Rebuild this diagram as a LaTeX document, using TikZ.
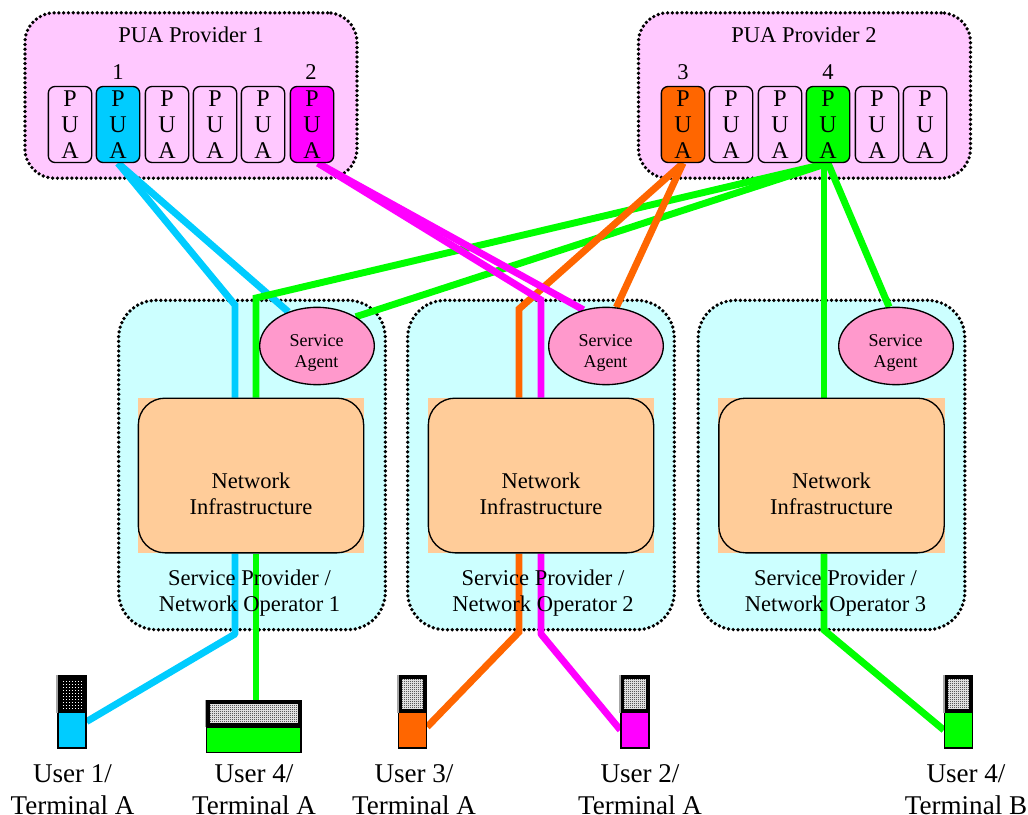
\documentclass[tikz,border=0pt]{standalone}
\usepackage{fontspec}
\setmainfont{Liberation Serif}
\usetikzlibrary{shapes.geometric,patterns}
\pgfdeclarelayer{bg}
\pgfdeclarelayer{lnk}
\pgfsetlayers{bg,lnk,main}
\pgfdeclarepatternformonly{finedots}{\pgfpointorigin}{\pgfqpoint{1.5pt}{1.5pt}}{\pgfqpoint{1.5pt}{1.5pt}}{\pgfpathrectangle{\pgfpointorigin}{\pgfqpoint{.75pt}{.75pt}}\pgfpathrectangle{\pgfqpoint{.75pt}{.75pt}}{\pgfqpoint{.75pt}{.75pt}}\pgfusepath{fill}}
\pgfdeclarepatternformonly{sparsedots}{\pgfpointorigin}{\pgfqpoint{2.25pt}{2.25pt}}{\pgfqpoint{2.25pt}{2.25pt}}{\pgfpathrectangle{\pgfpointorigin}{\pgfqpoint{.75pt}{.75pt}}\pgfusepath{fill}}
\definecolor{puabg}{RGB}{255,200,255}
\definecolor{spbg}{RGB}{204,255,255}
\definecolor{peach}{RGB}{255,204,153}
\definecolor{agentc}{RGB}{255,153,204}
\definecolor{cblue}{RGB}{0,204,255}
\definecolor{corange}{RGB}{255,102,0}
\definecolor{cgreen}{RGB}{0,255,0}
\definecolor{cmag}{RGB}{255,0,255}
\tikzstyle{prov}=[draw=black,line width=2.8pt,dash pattern=on 0pt off 3.6pt,line cap=round,rounded corners=22pt,fill=puabg,minimum width=249pt,minimum height=124pt]
\tikzstyle{spbox}=[draw=black,line width=2.8pt,dash pattern=on 0pt off 3.6pt,line cap=round,rounded corners=28pt,fill=spbg,minimum width=200pt,minimum height=247pt]
\tikzstyle{pua}=[draw=black,line width=1pt,rounded corners=5pt,minimum width=32.5pt,minimum height=57pt,inner sep=0pt,align=center,font=\fontsize{18}{19.5}\selectfont]
\tikzstyle{agent}=[ellipse,draw=black,line width=1pt,fill=agentc,minimum width=86pt,minimum height=58pt,inner sep=0pt]
\tikzstyle{agtxt}=[inner sep=0pt,align=center,font=\fontsize{13.5}{16}\selectfont]
\tikzstyle{infrabg}=[fill=peach,minimum width=170pt,minimum height=116pt,inner sep=0pt]
\tikzstyle{infra}=[draw=black,line width=1pt,fill=peach,rounded corners=20pt,minimum width=169pt,minimum height=116pt,inner sep=0pt]
\tikzstyle{lab}=[inner sep=0pt,align=center,font=\fontsize{16.9}{19.5}\selectfont]
\tikzstyle{user}=[inner sep=0pt,align=center,font=\fontsize{20.3}{24}\selectfont]
\tikzstyle{lk}=[line width=5.2pt,line join=miter]
\tikzstyle{scr}=[draw=black,line width=3pt,preaction={fill=white},pattern=finedots,pattern color=black,inner sep=0pt]
\tikzstyle{scrdark}=[draw=black,line width=3pt,preaction={fill=black},pattern=sparsedots,pattern color=white,inner sep=0pt]
\tikzstyle{bodyc}=[draw=black,line width=1pt,inner sep=0pt]
\tikzstyle{bevel}=[draw=gray!70,line width=1.4pt]
\begin{document}
\begin{tikzpicture}[x=.75pt,y=-.75pt]
\useasboundingbox (0,0) rectangle (1028,814);
\begin{pgfonlayer}{bg}
\node[prov] (provA) at (191,95.5) {};
\node[prov] (provB) at (804.5,95.5) {};
\node[spbox] (spA) at (252,465) {};
\node[spbox] (spB) at (541,465) {};
\node[spbox] (spC) at (831.5,465) {};
\end{pgfonlayer}
\node[lab] (provAt) at (191,35) {PUA Provider 1};
\node[lab] (provBt) at (804,35) {PUA Provider 2};
% left provider
\node[pua] (a1) at (70,124.5) {P\\U\\A};
\node[pua,fill=cblue] (a2) at (118,124.5) {P\\U\\A};
\node[pua] (a3) at (167,124.5) {P\\U\\A};
\node[pua] (a4) at (215,124.5) {P\\U\\A};
\node[pua] (a5) at (263,124.5) {P\\U\\A};
\node[pua,fill=cmag] (a6) at (312,124.5) {P\\U\\A};
\node[lab] (n1) at (118,72) {1};
\node[lab] (n2) at (311,72) {2};
% right provider
\node[pua,fill=corange] (b1) at (683,124.5) {P\\U\\A};
\node[pua] (b2) at (731,124.5) {P\\U\\A};
\node[pua] (b3) at (780,124.5) {P\\U\\A};
\node[pua,fill=cgreen] (b4) at (828,124.5) {P\\U\\A};
\node[pua] (b5) at (877,124.5) {P\\U\\A};
\node[pua] (b6) at (925,124.5) {P\\U\\A};
\node[lab] (n3) at (683,72) {3};
\node[lab] (n4) at (828,72) {4};
% service providers
\node[agent] (agA) at (317,346) {};
\node[agent] (agB) at (606,346) {};
\node[agent] (agC) at (896,346) {};
\node[agtxt] (agAt) at (316.5,353) {Service\\Agent};
\node[agtxt] (agBt) at (605.5,353) {Service\\Agent};
\node[agtxt] (agCt) at (895.5,353) {Service\\Agent};
\node[infrabg] (ibA) at (251,475.5) {};
\node[infrabg] (ibB) at (541,475.5) {};
\node[infrabg] (ibC) at (831.5,475.5) {};
\node[infra] (inA) at (251,475.5) {};
\node[infra] (inB) at (541,475.5) {};
\node[infra] (inC) at (831.5,475.5) {};
\node[lab] (inAt) at (251,494) {Network\\Infrastructure};
\node[lab] (inBt) at (541,494) {Network\\Infrastructure};
\node[lab] (inCt) at (831.5,494) {Network\\Infrastructure};
\node[lab] (opA) at (249.5,593) {Service Provider /\\Network Operator 1};
\node[lab] (opB) at (543,593) {Service Provider /\\Network Operator 2};
\node[lab] (opC) at (835.5,593) {Service Provider /\\Network Operator 3};
% terminals
\node[scrdark,minimum width=19pt,minimum height=25pt] (s1) at (72,694) {};
\node[bodyc,fill=cblue,minimum width=21pt,minimum height=27pt] (t1) at (72,730) {};
\node[scr,minimum width=69pt,minimum height=17pt] (s2) at (253.5,713.5) {};
\node[bodyc,fill=cgreen,minimum width=71pt,minimum height=19pt] (t2) at (253.5,740) {};
\node[scr,minimum width=19pt,minimum height=25pt] (s3) at (412.5,694) {};
\node[bodyc,fill=corange,minimum width=21pt,minimum height=27pt] (t3) at (412.5,730) {};
\node[scr,minimum width=19pt,minimum height=25pt] (s4) at (635,694) {};
\node[bodyc,fill=cmag,minimum width=21pt,minimum height=27pt] (t4) at (635,730) {};
\node[scr,minimum width=19pt,minimum height=25pt] (s5) at (958.5,694) {};
\node[bodyc,fill=cgreen,minimum width=21pt,minimum height=27pt] (t5) at (958.5,730) {};
\foreach \s in {s1,s2,s3,s4,s5} \draw[bevel] (\s.north west) -- (\s.south west);
\node[user] (u1) at (72.5,789.5) {User 1/\\Terminal A};
\node[user] (u2) at (254,789.5) {User 4/\\Terminal A};
\node[user] (u3) at (414,789.5) {User 3/\\Terminal A};
\node[user] (u4) at (640,789.5) {User 2/\\Terminal A};
\node[user] (u5) at (966,789.5) {User 4/\\Terminal B};
% bends
\coordinate (kA1) at (235,305); \coordinate (kA2) at (256,298);
\coordinate (kB1) at (519,309); \coordinate (kB2) at (541,300);
\coordinate (kC1) at (824,298);
\coordinate (mA1) at (235,634); \coordinate (mB1) at (519,632);
\coordinate (mB2) at (541,634); \coordinate (mC1) at (824,630);
\begin{pgfonlayer}{lnk}
\draw[lk,cblue] (a2.south) -- (kA1) -- (kA1 |- inA.north);
\draw[lk,cblue] (a2.south) -- (agA.130);
\draw[lk,cblue,line join=round] (mA1 |- inA.south) -- (mA1) -- (t1.30);
\draw[lk,cgreen] (b4.south) -- (kA2) -- (kA2 |- inA.north);
\draw[lk,cgreen] (b4.south) -- (agA.37);
\draw[lk,cgreen] (kA2 |- inA.south) -- (kA2 |- s2.north);
\draw[lk,corange] (b1.south) -- (kB1) -- (kB1 |- inB.north);
\draw[lk,corange] (b1.south) -- (agB.75);
\draw[lk,corange] (mB1 |- inB.south) -- (mB1) -- (t3.12);
\draw[lk,cmag] ([xshift=4.5pt]a6.south) -- (kB2) -- (kB2 |- inB.north);
\draw[lk,cmag] ([xshift=4.5pt]a6.south) -- (agB.122);
\draw[lk,cmag,line join=round] (mB2 |- inB.south) -- (mB2) -- (t4.west);
\draw[lk,cgreen] (kC1 |- b4.south) -- (kC1 |- inC.north);
\draw[lk,cgreen] (b4.south) -- (agC.100);
\draw[lk,cgreen] (mC1 |- inC.south) -- (mC1) -- (t5.west);
\end{pgfonlayer}
\end{tikzpicture}
\end{document}
